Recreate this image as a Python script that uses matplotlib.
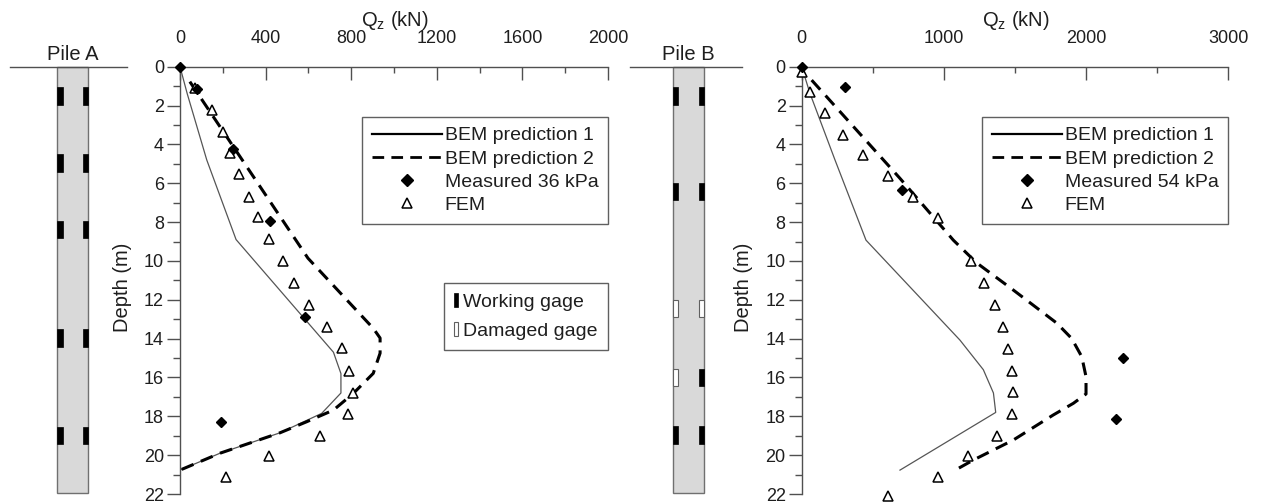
import matplotlib
matplotlib.use('Agg')
import matplotlib.pyplot as plt
from matplotlib.patches import Rectangle
from matplotlib.lines import Line2D
from matplotlib.ticker import MultipleLocator

plt.rcParams['font.family'] = ['Liberation Sans', 'DejaVu Sans']
plt.rcParams['mathtext.fontset'] = 'custom'
plt.rcParams['mathtext.rm'] = 'Liberation Sans'

# ---------------- data: Pile A ----------------
a_bem1_q = [0, 34, 125, 262, 717, 752, 752, 662, 467, 187, 0]
a_bem1_z = [0, 1.4, 4.8, 8.9, 14.7, 15.8, 16.8, 17.85, 18.85, 19.9, 20.77]
a_bem2_q = [46, 598, 903, 935, 935, 903, 810, 717, 592, 467, 187, 0]
a_bem2_z = [0.77, 9.86, 13.47, 13.97, 14.75, 15.79, 16.82, 17.68, 18.28, 18.85, 19.9, 20.77]
a_meas_q = [0, 78, 246, 420, 584, 190]
a_meas_z = [0, 1.17, 4.25, 7.93, 12.9, 18.3]
a_fem_q = [70, 148, 202, 234, 277, 324, 366, 417, 480, 533, 604, 688, 755, 791, 807, 783, 654, 416, 215]
a_fem_z = [1.1, 2.23, 3.35, 4.46, 5.53, 6.69, 7.76, 8.89, 9.99, 11.12, 12.27, 13.39, 14.5, 15.65,
           16.79, 17.88, 19.02, 20.05, 21.1]

# ---------------- data: Pile B ----------------
b_bem1_q = [0, 58, 234, 452, 1113, 1277, 1348, 1364, 691]
b_bem1_z = [0, 1.37, 4.8, 8.93, 14.08, 15.6, 16.8, 17.8, 20.77]
b_bem2_q = [70, 691, 1066, 1230, 1488, 1793, 1898, 1969, 1999, 1999, 1910, 1769, 1488, 1207, 1060]
b_bem2_z = [0.69, 5.75, 8.93, 10.1, 11.5, 13.2, 13.99, 14.93, 15.96, 16.85, 17.33, 17.93, 19.22, 20.25, 20.85]
b_meas_q = [0, 305, 702, 2257, 2210]
b_meas_z = [0, 1.06, 6.35, 15.02, 18.14]
b_fem_q = [5, 58, 164, 288, 429, 604, 785, 956, 1188, 1282, 1359, 1418, 1453, 1477, 1484, 1477,
           1376, 1167, 961, 609]
b_fem_z = [0.26, 1.29, 2.4, 3.52, 4.55, 5.63, 6.73, 7.81, 9.99, 11.12, 12.27, 13.42, 14.54, 15.65,
           16.77, 17.88, 19.02, 20.05, 21.1, 22.1]

# ---------------- gages ----------------
gage_a_depth = [1.5, 4.97, 8.38, 13.98, 18.99]
gage_a_left = ['W', 'W', 'W', 'W', 'W']
gage_a_right = ['W', 'W', 'W', 'W', 'W']
gage_b_depth = [1.52, 6.42, 12.45, 16.0, 18.97]
gage_b_left = ['W', 'W', 'D', 'D', 'W']
gage_b_right = ['W', 'W', 'D', 'W', 'W']

meas_labels = ['Measured 36 kPa', 'Measured 54 kPa']

W, H = 1262, 504
fig = plt.figure(figsize=(W / 100, H / 100), dpi=100)

def fx(px):
    return px / W

bottom = 1 - 494 / H
height = 427.3 / H

AX_COL = '#505050'
TXT = '#1e1e1e'


def draw_pile(rect_px, x0, x1, gw, depths, left, right, name, lab_x):
    ax = fig.add_axes([fx(rect_px[0]), bottom, fx(rect_px[1]), height])
    ax.set_xlim(0, 1)
    ax.set_ylim(22, 0)
    ax.axis('off')
    ax.plot([0, 1], [0, 0], color=AX_COL, lw=1.0, clip_on=False)
    ax.add_patch(Rectangle((x0, 0), x1 - x0, 21.95, facecolor='#d9d9d9', edgecolor='#707070', lw=1.0,
                           clip_on=False))
    gh = 0.9
    for d, l, r in zip(depths, left, right):
        for xs, st in ((x0, l), (x1 - gw, r)):
            if st == 'W':
                ax.add_patch(Rectangle((xs, d - gh / 2), gw, gh, facecolor='black', edgecolor='black',
                                       lw=0.5, clip_on=False))
            else:
                ax.add_patch(Rectangle((xs, d - gh / 2), gw, gh, facecolor='white', edgecolor='#606060',
                                       lw=0.8, clip_on=False))
    ax.text(lab_x, -0.35, name, ha='center', va='baseline', fontsize=14.5, color=TXT)


draw_pile((10, 117), 0.404, 0.669, 0.046, gage_a_depth, gage_a_left, gage_a_right, 'Pile A', 0.538)
draw_pile((630, 111.7), 0.382, 0.662, 0.047, gage_b_depth, gage_b_left, gage_b_right, 'Pile B', 0.519)


def draw_main(left_px, width_px, xmax, major, minor, bem1, bem2, meas, fem, mlabel, gage_legend):
    ax = fig.add_axes([fx(left_px), bottom, fx(width_px), height])
    ax.set_xlim(0, xmax)
    ax.set_ylim(22, 0)
    for s in ('right', 'bottom'):
        ax.spines[s].set_visible(False)
    for s in ('top', 'left'):
        ax.spines[s].set_color(AX_COL)
        ax.spines[s].set_linewidth(1.0)
    ax.xaxis.tick_top()
    ax.xaxis.set_label_position('top')
    ax.xaxis.set_major_locator(MultipleLocator(major))
    ax.xaxis.set_minor_locator(MultipleLocator(minor))
    ax.yaxis.set_major_locator(MultipleLocator(2))
    ax.yaxis.set_minor_locator(MultipleLocator(1))
    ax.tick_params(axis='x', which='major', direction='in', length=9.5, width=1.0, color=AX_COL,
                   labelsize=13, pad=14, labelcolor=TXT)
    ax.tick_params(axis='x', which='minor', direction='in', length=4, width=1.0, color=AX_COL)
    ax.tick_params(axis='y', which='major', direction='out', length=9.5, width=1.0, color=AX_COL,
                   labelsize=13, pad=2, labelcolor=TXT)
    ax.tick_params(axis='y', which='minor', direction='out', length=5, width=1.0, color=AX_COL)

    ax.set_xlabel(r'Q$_\mathregular{z}$ (kN)', fontsize=14.5, color=TXT)
    ax.xaxis.set_label_coords(0.502, 1.095)
    ax.set_ylabel('Depth (m)', fontsize=14.5, color=TXT)
    ax.yaxis.set_label_coords(-0.113, 0.484)

    ax.plot(bem1[0], bem1[1], color='#555555', lw=0.9, zorder=3)
    ax.plot(bem2[0], bem2[1], color='black', lw=2.2, dashes=(4.2, 2.6), zorder=3)
    ax.plot(meas[0], meas[1], ls='none', marker='D', ms=5.5, color='black', zorder=5, clip_on=False)
    ax.plot(fem[0], fem[1], ls='none', marker='^', ms=7.5, mfc='white', mec='black', mew=1.1,
            zorder=4, clip_on=False)

    handles = [Line2D([], [], color='black', lw=1.6),
               Line2D([], [], color='black', lw=2.0, dashes=(4.2, 2.6)),
               Line2D([], [], ls='none', marker='D', ms=6.5, color='black'),
               Line2D([], [], ls='none', marker='^', ms=6.5, mfc='white', mec='black', mew=1.1)]
    labels = ['BEM prediction 1', 'BEM prediction 2', mlabel, 'FEM']
    leg = ax.legend(handles, labels, loc='upper right', bbox_to_anchor=(1.0, 0.882), fontsize=14,
                    frameon=True, fancybox=False, edgecolor='#606060', framealpha=1,
                    handlelength=3.6, handletextpad=0.15, labelspacing=0.29, borderpad=0.5,
                    borderaxespad=0.0)
    leg.get_frame().set_linewidth(1.0)
    for t in leg.get_texts():
        t.set_color(TXT)
    if gage_legend:
        ax.add_artist(leg)
        gh = [Rectangle((0, 0), 1, 1, facecolor='black', edgecolor='black', lw=0.5),
              Rectangle((0, 0), 1, 1, facecolor='white', edgecolor='#606060', lw=0.8)]
        leg2 = ax.legend(gh, ['Working gage', 'Damaged gage'], loc='upper right',
                         bbox_to_anchor=(0.999, 0.493), fontsize=14, frameon=True, fancybox=False,
                         edgecolor='#606060', framealpha=1, handlelength=0.25, handleheight=0.7,
                         handletextpad=0.25, labelspacing=0.6, borderpad=0.5, borderaxespad=0.0)
        leg2.get_frame().set_linewidth(1.0)
        for t in leg2.get_texts():
            t.set_color(TXT)
    return ax


draw_main(180, 428, 2000, 400, 200, (a_bem1_q, a_bem1_z), (a_bem2_q, a_bem2_z),
          (a_meas_q, a_meas_z), (a_fem_q, a_fem_z), meas_labels[0], True)
draw_main(801.7, 426.7, 3000, 1000, 500, (b_bem1_q, b_bem1_z), (b_bem2_q, b_bem2_z),
          (b_meas_q, b_meas_z), (b_fem_q, b_fem_z), meas_labels[1], False)

fig.savefig('out.png', dpi=100)
